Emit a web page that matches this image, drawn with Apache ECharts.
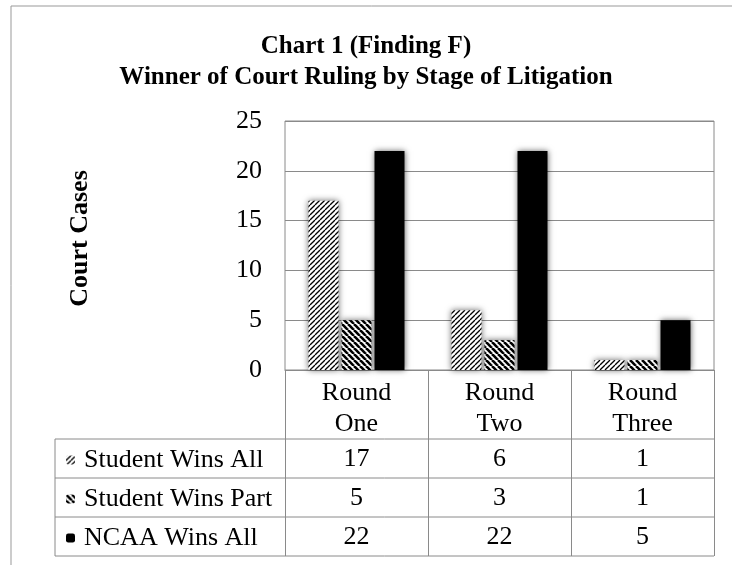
<!DOCTYPE html>
<html>
<head>
<meta charset="utf-8">
<script src="https://cdn.jsdelivr.net/npm/echarts@6/dist/echarts.min.js"></script>
<style>html,body{margin:0;padding:0;background:#fff}#c{width:732px;height:565px}</style>
</head>
<body>
<div id="c"></div>
<script>
// ---- data ----
const categories = ['Round One', 'Round Two', 'Round Three'];
const seriesNames = ['Student Wins All', 'Student Wins Part', 'NCAA Wins All'];
const studentWinsAll = [17, 6, 1];
const studentWinsPart = [5, 3, 1];
const ncaaWinsAll = [22, 22, 5];
const yMin = 0, yMax = 25, yInterval = 5;
const titleText = 'Chart 1 (Finding F)\nWinner of Court Ruling by Stage of Litigation';
const yAxisName = 'Court Cases';

// ---- layout ----
const W = 732, H = 565;
const plotLeft = 285, plotRight = 714, plotTop = 121, plotBottom = 370;
const tableLeft = 55, headerH = 69, rowH = 39;
const lineCol = '#8a8a8a';
const FONT = '"Liberation Serif", "Times New Roman", serif';
const FS = 26;

function hatch(size, lw, dir) {
  const c = document.createElement('canvas');
  c.width = size; c.height = size;
  const g = c.getContext('2d');
  g.fillStyle = '#fff'; g.fillRect(0, 0, size, size);
  g.strokeStyle = '#000'; g.lineWidth = lw;
  for (let k = -1; k <= 1; k++) {
    const x0 = k * size;
    g.beginPath();
    if (dir === '/') { g.moveTo(x0, size); g.lineTo(x0 + size, 0); }
    else { g.moveTo(x0, 0); g.lineTo(x0 + size, size); }
    g.stroke();
  }
  return c;
}
const patAll = { image: hatch(5, 1.3, '/'), repeat: 'repeat' };
const patPart = { image: hatch(6, 2.6, '\\'), repeat: 'repeat' };

const chart = echarts.init(document.getElementById('c'), null, { renderer: 'canvas' });

const tableBottom = plotBottom + headerH + rowH * 3;
const gLines = [];
for (let i = 0; i <= 3; i++) {
  const y = plotBottom + headerH + rowH * i;
  gLines.push({ type: 'line', shape: { x1: tableLeft, y1: y, x2: plotRight, y2: y }, style: { stroke: lineCol, lineWidth: 1 }, z: 10 });
}
gLines.push({ type: 'line', shape: { x1: tableLeft, y1: plotBottom + headerH, x2: tableLeft, y2: tableBottom }, style: { stroke: lineCol, lineWidth: 1 }, z: 10 });
// outer frame (top and left edges only)
gLines.push({ type: 'line', shape: { x1: 11, y1: 6, x2: W, y2: 6 }, style: { stroke: '#999', lineWidth: 1 }, z: 0 });
gLines.push({ type: 'line', shape: { x1: 11, y1: 6, x2: 11, y2: H }, style: { stroke: '#999', lineWidth: 1 }, z: 0 });

const barCommon = { type: 'bar', barWidth: 30, barGap: '10%' };
const shadow = { shadowColor: 'rgba(0,0,0,0.6)', shadowBlur: 6 };

chart.setOption({
  animation: false,
  backgroundColor: '#fff',
  title: {
    text: titleText, left: 'center', top: 26,
    textStyle: { fontFamily: FONT, fontWeight: 'bold', fontSize: 25, lineHeight: 31, color: '#000' }
  },
  legend: {
    orient: 'vertical', left: 66, top: plotBottom + headerH + 8, height: 200, padding: 0,
    itemWidth: 9, itemHeight: 9, itemGap: 13, selectedMode: false,
    data: seriesNames,
    itemStyle: { shadowBlur: 0 },
    textStyle: { fontFamily: FONT, fontSize: FS, color: '#000', lineHeight: 26, padding: [0, 0, 0, 4] }
  },
  grid: {
    left: plotLeft, right: W - plotRight, top: plotTop, bottom: H - plotBottom,
    show: true, borderColor: lineCol, borderWidth: 1
  },
  xAxis: {
    type: 'category', data: categories,
    axisLine: { show: true, lineStyle: { color: lineCol, width: 1 } },
    axisTick: { show: true, interval: 0, length: headerH + rowH * 3, lineStyle: { color: lineCol, width: 1 } },
    axisLabel: {
      interval: 0, margin: 8, color: '#000', fontFamily: FONT,
      formatter: function (v, i) {
        const parts = v.split(' ');
        return '{h|' + parts[0] + '}\n{h|' + parts[1] + '}\n{v|' + studentWinsAll[i] + '}\n{v|' + studentWinsPart[i] + '}\n{v|' + ncaaWinsAll[i] + '}';
      },
      rich: {
        h: { fontFamily: FONT, fontSize: FS, lineHeight: 31, color: '#000' },
        v: { fontFamily: FONT, fontSize: FS, lineHeight: 39, color: '#000' }
      }
    }
  },
  yAxis: {
    type: 'value', min: yMin, max: yMax, interval: yInterval,
    name: yAxisName, nameLocation: 'middle', nameGap: 192, nameRotate: 90,
    nameTextStyle: { fontFamily: FONT, fontWeight: 'bold', fontSize: FS, color: '#000', padding: [0, 0, 0, 14] },
    axisLine: { show: false }, axisTick: { show: false },
    axisLabel: { fontFamily: FONT, fontSize: FS, color: '#000', margin: 23 },
    splitLine: { lineStyle: { color: lineCol, width: 1 } }
  },
  series: [
    Object.assign({}, barCommon, { name: seriesNames[0], data: studentWinsAll, itemStyle: Object.assign({ color: patAll }, shadow) }),
    Object.assign({}, barCommon, { name: seriesNames[1], data: studentWinsPart, itemStyle: Object.assign({ color: patPart }, shadow) }),
    Object.assign({}, barCommon, { name: seriesNames[2], data: ncaaWinsAll, itemStyle: Object.assign({ color: '#000' }, shadow) })
  ],
  graphic: gLines
});
</script>
</body>
</html>
